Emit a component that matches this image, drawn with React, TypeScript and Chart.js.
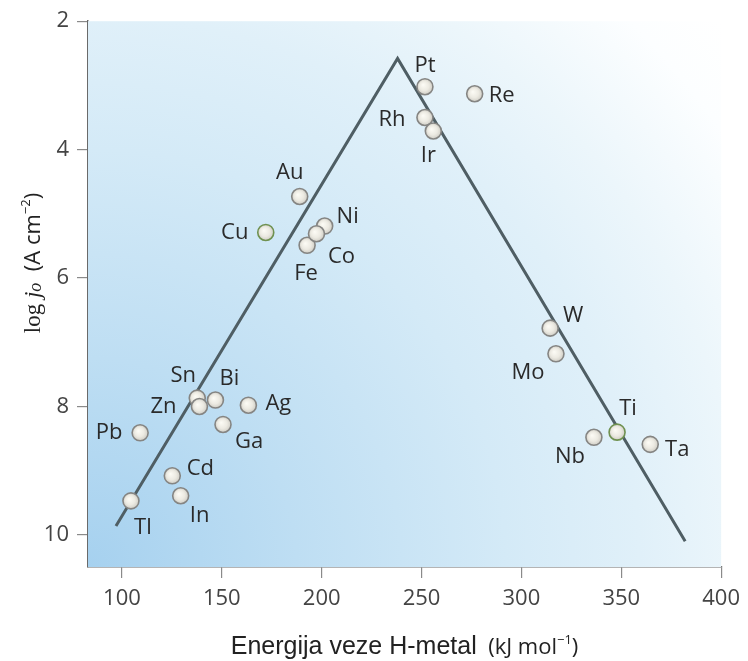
import React, { useEffect, useRef } from "react";
import { Chart, registerables } from "chart.js";

Chart.register(...registerables);

// ---- data ----
const metals = ["Au", "Cu", "Ni", "Fe", "Co", "Pt", "Re", "Rh", "Ir", "W", "Mo", "Ti", "Nb", "Ta", "Sn", "Zn", "Bi", "Ag", "Pb", "Ga", "Cd", "In", "Tl"];
const bondEnergy = [189.0, 172.0, 201.5, 192.7, 197.4, 251.7, 276.6, 251.7, 255.9, 314.4, 317.3, 347.9, 336.3, 364.5, 137.7, 138.8, 146.8, 163.3, 109.1, 150.6, 125.2, 129.4, 104.5];
const logJ0 = [4.73, 5.29, 5.19, 5.49, 5.31, 3.02, 3.13, 3.5, 3.71, 6.78, 7.18, 8.4, 8.48, 8.59, 7.87, 8.0, 7.9, 7.98, 8.41, 8.28, 9.08, 9.39, 9.47];
const volcanoX = [97, 238, 382];
const volcanoY = [9.86, 2.58, 10.1];
const xTicks = [100, 150, 200, 250, 300, 350, 400];
const yTicks = [2, 4, 6, 8, 10];
const greenRimmed = ["Cu", "Ti"];

// ---- label placement (pixel offsets of label centre from the marker) ----
const labelOffsets: Record<string, [number, number]> = {
  Au: [-10, -24], Cu: [-31, 0], Ni: [23, -9], Co: [25, 23], Fe: [-1, 28],
  Pt: [0, -21], Re: [27, 2], Rh: [-33, 2], Ir: [-5, 25], W: [23, -12],
  Mo: [-28, 19], Ti: [11, -23], Nb: [-24, 19], Ta: [27, 5], Sn: [-14, -22],
  Bi: [14, -21], Zn: [-36, 0], Ag: [30, -1], Pb: [-31, 0], Ga: [26, 17],
  Cd: [28, -7], In: [19, 20], Tl: [12, 27],
};

const SANS = '"Open Sans", "DejaVu Sans", sans-serif';

const backgroundPlugin = {
  id: "plotBackground",
  beforeDatasetsDraw(chart: any) {
    const { ctx, chartArea: a } = chart;
    const w = a.right - a.left;
    const h = a.bottom - a.top;
    const r = Math.hypot(w, h) * 1.0;
    const g = ctx.createRadialGradient(a.left, a.bottom, 0, a.left, a.bottom, r);
    g.addColorStop(0, "rgb(166,209,239)");
    g.addColorStop(0.25, "rgb(190,222,243)");
    g.addColorStop(0.5, "rgb(212,234,247)");
    g.addColorStop(0.66, "rgb(224,240,249)");
    g.addColorStop(0.78, "rgb(236,246,251)");
    g.addColorStop(0.92, "rgb(252,254,255)");
    g.addColorStop(1, "rgb(255,255,255)");
    ctx.save();
    ctx.fillStyle = g;
    ctx.fillRect(a.left, a.top, w, h);
    ctx.restore();
  },
};

type Piece = { t: string; font: string; dy?: number };

function drawPieces(ctx: CanvasRenderingContext2D, pieces: Piece[], cx: number, baseY: number) {
  let total = 0;
  for (const p of pieces) {
    ctx.font = p.font;
    total += ctx.measureText(p.t).width;
  }
  let x = cx - total / 2;
  for (const p of pieces) {
    ctx.font = p.font;
    ctx.fillText(p.t, x, baseY + (p.dy || 0));
    x += ctx.measureText(p.t).width;
  }
}

const annotatePlugin = {
  id: "annotate",
  afterDraw(chart: any) {
    const { ctx, chartArea: a } = chart;
    const xs = chart.scales.x;
    const ys = chart.scales.y;
    ctx.save();
    // point labels
    ctx.fillStyle = "#2a2a2a";
    ctx.font = `22px ${SANS}`;
    ctx.textAlign = "center";
    ctx.textBaseline = "middle";
    metals.forEach((m, i) => {
      const px = xs.getPixelForValue(bondEnergy[i]);
      const py = ys.getPixelForValue(logJ0[i]);
      const [dx, dy] = labelOffsets[m] || [0, 0];
      ctx.fillText(m, px + dx, py + dy);
    });
    // x-axis title
    ctx.textAlign = "left";
    ctx.textBaseline = "alphabetic";
    ctx.fillStyle = "#222";
    drawPieces(
      ctx,
      [
        { t: "Energija veze H-metal", font: '25px "Liberation Sans", Arial, sans-serif' },
        { t: "  (kJ mol", font: `22px ${SANS}` },
        { t: "\u22121", font: `13px ${SANS}`, dy: -10 },
        { t: ")", font: `22px ${SANS}` },
      ],
      (a.left + a.right) / 2,
      654
    );
    // y-axis title
    ctx.translate(40, 263);
    ctx.rotate(-Math.PI / 2);
    drawPieces(
      ctx,
      [
        { t: "log ", font: '23px "Liberation Serif", "DejaVu Serif", serif' },
        { t: "j", font: 'italic 23px "Liberation Serif", "DejaVu Serif", serif' },
        { t: "o", font: 'italic 18px "Liberation Serif", "DejaVu Serif", serif', dy: 1 },
        { t: "  (A cm", font: `22px ${SANS}` },
        { t: "\u22122", font: `13px ${SANS}`, dy: -10 },
        { t: ")", font: `22px ${SANS}` },
      ],
      0,
      0
    );
    ctx.restore();
  },
};

export default function App() {
  const canvasRef = useRef<HTMLCanvasElement | null>(null);

  useEffect(() => {
    const canvas = canvasRef.current;
    if (!canvas) return;

    const pointFill = (c: any) => {
      const chart = c.chart;
      const i = c.dataIndex;
      if (c.type !== "data" || !chart.scales || !chart.scales.x || i == null) return "#ebe9e2";
      const px = chart.scales.x.getPixelForValue(bondEnergy[i]);
      const py = chart.scales.y.getPixelForValue(logJ0[i]);
      if (!isFinite(px) || !isFinite(py)) return "#ebe9e2";
      const g = chart.ctx.createRadialGradient(px - 2, py - 2, 0, px, py, 8);
      g.addColorStop(0, "#fdfcf6");
      g.addColorStop(0.6, "#eceae2");
      g.addColorStop(1, "#cfcdc5");
      return g;
    };

    const chart = new Chart(canvas, {
      type: "scatter",
      data: {
        datasets: [
          {
            label: "metals",
            data: metals.map((_, i) => ({ x: bondEnergy[i], y: logJ0[i] })),
            pointRadius: 8,
            pointBorderWidth: 1.6,
            pointBackgroundColor: pointFill,
            pointBorderColor: metals.map((m) => (greenRimmed.includes(m) ? "#6f9150" : "#858583")),
            order: 0,
          },
          {
            label: "volcano",
            data: volcanoX.map((x, i) => ({ x, y: volcanoY[i] })),
            showLine: true,
            borderColor: "#4f5e64",
            borderWidth: 3,
            pointRadius: 0,
            order: 1,
          },
        ],
      },
      options: {
        animation: false,
        responsive: true,
        maintainAspectRatio: false,
        layout: { padding: { top: 20, right: 22, left: 0, bottom: 0 } },
        plugins: { legend: { display: false }, tooltip: { enabled: false } },
        scales: {
          x: {
            type: "linear",
            min: 83,
            max: 400,
            afterBuildTicks: (s: any) => {
              s.ticks = xTicks.map((v) => ({ value: v }));
            },
            afterFit: (s: any) => {
              s.height = 94;
            },
            grid: { drawOnChartArea: false, drawTicks: true, tickLength: 11, color: "#8a8a8a", lineWidth: 1.2 },
            border: { display: true, color: "#6a6a6a", width: 1.5 },
            ticks: { color: "#444", font: { family: SANS, size: 22 }, padding: 8, maxRotation: 0 },
          },
          y: {
            type: "linear",
            min: 2,
            max: 10.5,
            reverse: true,
            afterBuildTicks: (s: any) => {
              s.ticks = yTicks.map((v) => ({ value: v }));
            },
            afterFit: (s: any) => {
              s.width = 88;
            },
            grid: { drawOnChartArea: false, drawTicks: true, tickLength: 11, color: "#8a8a8a", lineWidth: 1.2 },
            border: { display: true, color: "#6a6a6a", width: 1.5 },
            ticks: { color: "#444", font: { family: SANS, size: 22 }, padding: 8 },
          },
        },
      },
      plugins: [backgroundPlugin, annotatePlugin],
    } as any);

    return () => chart.destroy();
  }, []);

  return (
    <div style={{ position: "absolute", left: 0, top: 0, width: 748, height: 661, background: "#fff" }}>
      <canvas ref={canvasRef} />
    </div>
  );
}
